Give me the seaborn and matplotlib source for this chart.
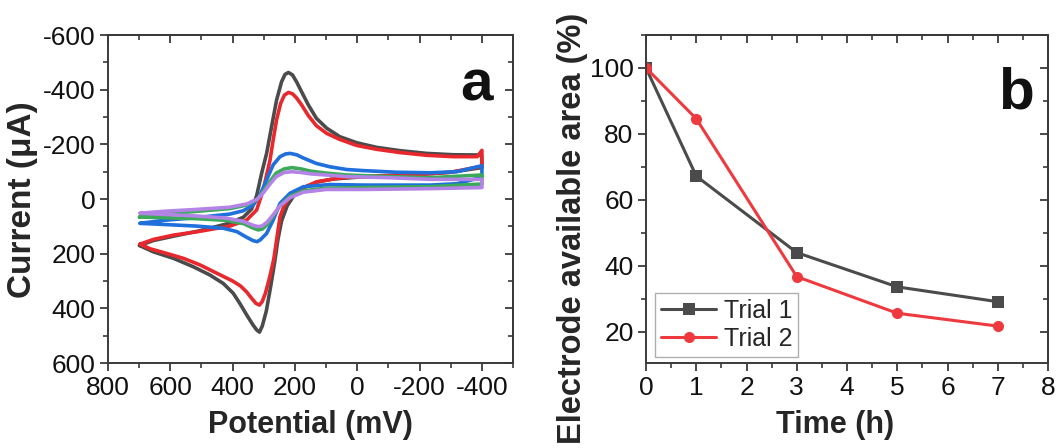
import numpy as np
import pandas as pd
import matplotlib
matplotlib.use("Agg")
import matplotlib.pyplot as plt
from matplotlib.ticker import MultipleLocator
import seaborn as sns

# ---------------- data: panel a (cyclic voltammograms) ----------------
# each loop = forward (upper) branch + reverse (lower) branch
black_up_E = [699, 655, 590, 505, 419, 366, 339, 323, 307, 291, 275, 259, 243, 232, 221, 208, 195, 179, 157, 131, 98, 56, 2, -62, -137, -222, -308, -399]
black_up_I = [170, 152, 136, 116, 91, 67, 36, -12, -94, -167, -265, -362, -429, -456, -463, -454, -429, -393, -344, -295, -259, -228, -206, -189, -177, -167, -162, -161]
black_lo_E = [-400, -300, -200, -100, 0, 80, 130, 175, 205, 225, 243, 255, 265, 278, 292, 305, 314, 322, 334, 355, 377, 398, 430, 473, 526, 590, 655, 699]
black_lo_I = [-115, -98, -90, -85, -80, -73, -62, -40, -10, 25, 80, 150, 230, 320, 410, 465, 487, 480, 462, 424, 382, 345, 309, 278, 248, 217, 193, 170]

red_up_E = [697, 655, 590, 515, 409, 355, 323, 302, 280, 270, 259, 246, 234, 221, 208, 195, 179, 157, 131, 98, 56, 2, -62, -137, -222, -308, -385, -400]
red_up_I = [165, 148, 132, 120, 99, 77, 40, -33, -143, -216, -290, -350, -380, -390, -385, -370, -345, -305, -268, -240, -218, -196, -182, -170, -160, -155, -155, -178]
red_lo_E = [-400, -300, -200, -100, 0, 60, 130, 175, 216, 235, 248, 259, 268, 282, 295, 305, 314, 325, 340, 355, 375, 400, 450, 505, 558, 612, 665, 697]
red_lo_I = [-120, -98, -90, -86, -82, -76, -63, -40, -8, 25, 65, 150, 220, 290, 345, 375, 388, 382, 362, 340, 318, 300, 272, 241, 217, 199, 182, 165]

blue_up_E = [697, 622, 515, 409, 366, 334, 312, 291, 270, 248, 230, 216, 195, 173, 131, 88, 34, -19, -126, -233, -320, -400]
blue_up_I = [89, 78, 68, 55, 43, 22, -15, -70, -125, -155, -165, -167, -162, -150, -130, -118, -108, -104, -98, -96, -100, -122]
blue_lo_E = [-400, -320, -233, -19, 88, 173, 216, 248, 270, 291, 312, 322, 335, 355, 387, 430, 516, 622, 697]
blue_lo_I = [-80, -56, -51, -51, -53, -45, -21, 16, 77, 126, 150, 156, 152, 140, 119, 107, 99, 93, 89]

green_up_E = [699, 622, 515, 409, 355, 320, 300, 280, 260, 235, 210, 180, 150, 100, 34, -100, -233, -400]
green_up_I = [66, 55, 45, 35, 22, 0, -30, -65, -95, -110, -115, -110, -102, -95, -88, -82, -78, -88]
green_lo_E = [-400, -233, -19, 100, 173, 216, 248, 270, 290, 305, 318, 335, 365, 420, 516, 622, 699]
green_lo_I = [-55, -45, -42, -40, -30, -10, 25, 62, 95, 110, 113, 106, 90, 78, 72, 68, 66]

purple_up_E = [697, 622, 515, 409, 355, 320, 300, 280, 260, 235, 210, 180, 150, 100, 34, -100, -233, -400]
purple_up_I = [52, 45, 38, 30, 18, 0, -25, -55, -82, -97, -100, -97, -92, -88, -82, -78, -72, -72]
purple_lo_E = [-400, -233, -19, 100, 173, 216, 248, 270, 290, 305, 318, 335, 365, 420, 516, 622, 697]
purple_lo_I = [-42, -38, -35, -35, -25, -5, 25, 58, 85, 98, 101, 96, 82, 70, 62, 56, 52]

# ---------------- data: panel b ----------------
time_h = [0, 1, 3, 5, 7]
trial1 = [100, 67.2, 44.0, 33.6, 29.1]
trial2 = [100, 84.6, 36.7, 25.6, 21.7]

# ---------------- style ----------------
sns.set_theme(style="ticks")
plt.rcParams["font.family"] = ["Liberation Sans", "DejaVu Sans"]
plt.rcParams["axes.unicode_minus"] = False

fig = plt.figure(figsize=(10.57, 4.48), dpi=100)
axA = fig.add_axes([0.1022, 0.1897, 0.3832, 0.7321])
axB = fig.add_axes([0.6112, 0.1897, 0.3803, 0.7321])

SPINE = "#3a3a3a"
TICK_FS = 19

curves = [
    (black_up_E, black_up_I, black_lo_E, black_lo_I, "#4b4b4b"),
    (red_up_E, red_up_I, red_lo_E, red_lo_I, "#e8282d"),
    (blue_up_E, blue_up_I, blue_lo_E, blue_lo_I, "#1f6fdc"),
    (green_up_E, green_up_I, green_lo_E, green_lo_I, "#3daa5a"),
    (purple_up_E, purple_up_I, purple_lo_E, purple_lo_I, "#b384e6"),
]
for uE, uI, lE, lI, col in curves:
    df = pd.DataFrame({"E": uE + lE, "I": uI + lI})
    sns.lineplot(data=df, x="E", y="I", sort=False, estimator=None,
                 color=col, lw=2.6, ax=axA)

axA.set_xlim(800, -500)
axA.set_ylim(600, -600)
axA.set_xticks(np.arange(800, -401, -200))
axA.set_yticks(np.arange(-600, 601, 200))
axA.xaxis.set_minor_locator(MultipleLocator(100))
axA.yaxis.set_minor_locator(MultipleLocator(100))


def style_axes(ax, xminor, yminor, xt, yt):
    for s in ax.spines.values():
        s.set_color(SPINE)
        s.set_linewidth(1.4)
        s.set_visible(True)
    ax.tick_params(which="major", direction="out", length=6, width=1.3,
                   colors=SPINE, labelcolor="#111111", labelsize=TICK_FS, pad=3)
    ax.tick_params(which="minor", direction="out", length=3.5, width=1.2, colors=SPINE)
    top = ax.secondary_xaxis("top")
    top.set_xticks(xt)
    top.xaxis.set_minor_locator(MultipleLocator(xminor))
    top.tick_params(which="major", direction="in", length=6, width=1.3, colors=SPINE, labeltop=False)
    top.tick_params(which="minor", direction="in", length=3.5, width=1.2, colors=SPINE)
    top.spines["top"].set_color(SPINE)
    top.spines["top"].set_linewidth(1.4)
    right = ax.secondary_yaxis("right")
    right.set_yticks(yt)
    right.yaxis.set_minor_locator(MultipleLocator(yminor))
    right.tick_params(which="major", direction="in", length=6, width=1.3, colors=SPINE, labelright=False)
    right.tick_params(which="minor", direction="in", length=3.5, width=1.2, colors=SPINE)
    right.spines["right"].set_color(SPINE)
    right.spines["right"].set_linewidth(1.4)


style_axes(axA, 100, 100, np.arange(800, -401, -200), np.arange(-600, 601, 200))

axA.set_xlabel("Potential (mV)", fontsize=22, fontweight="bold")
axA.xaxis.set_label_coords(0.50, -0.19)
axA.xaxis.label.set_verticalalignment("center")
axA.set_ylabel("Current (\u03bcA)", fontsize=24, fontweight="bold")
axA.yaxis.set_label_coords(-0.212, 0.497)
axA.yaxis.label.set_verticalalignment("center")
axA.text(0.909, 0.80, "a", transform=axA.transAxes, fontsize=42,
         fontweight="bold", ha="center", va="baseline", color="#111111")

# ---------------- panel b ----------------
dfb = pd.DataFrame({
    "time": time_h + time_h,
    "area": trial1 + trial2,
    "trial": ["Trial 1"] * len(time_h) + ["Trial 2"] * len(time_h),
})
sns.lineplot(data=dfb, x="time", y="area", hue="trial", style="trial",
             palette={"Trial 1": "#4b4b4b", "Trial 2": "#ee3a3e"},
             markers={"Trial 1": "s", "Trial 2": "o"}, dashes=False,
             markersize=8, markeredgewidth=0, lw=2.2, ax=axB)
axB.set_xlim(0, 8)
axB.set_ylim(10.5, 110)
axB.set_xticks(np.arange(0, 9, 1))
axB.set_yticks(np.arange(20, 101, 20))
axB.xaxis.set_minor_locator(MultipleLocator(0.5))
axB.yaxis.set_minor_locator(MultipleLocator(10))
style_axes(axB, 0.5, 10, np.arange(0, 9, 1), np.arange(20, 101, 20))

axB.set_xlabel("Time (h)", fontsize=22, fontweight="bold")
axB.xaxis.set_label_coords(0.47, -0.19)
axB.xaxis.label.set_verticalalignment("center")
axB.set_ylabel("Electrode available area (%)", fontsize=23.5, fontweight="bold")
axB.yaxis.set_label_coords(-0.182, 0.41)
axB.yaxis.label.set_verticalalignment("center")
axB.text(0.92, 0.777, "b", transform=axB.transAxes, fontsize=42,
         fontweight="bold", ha="center", va="baseline", color="#111111")

leg = axB.legend(loc="lower left", bbox_to_anchor=(0.022, 0.018), frameon=True,
                 fancybox=False, edgecolor="#9a9a9a", fontsize=18, handlelength=2.2,
                 borderpad=0.25, labelspacing=0.15, handletextpad=0.3,
                 borderaxespad=0, title=None)
leg.get_frame().set_linewidth(1.0)

fig.savefig("out.png", dpi=100, facecolor="white")
